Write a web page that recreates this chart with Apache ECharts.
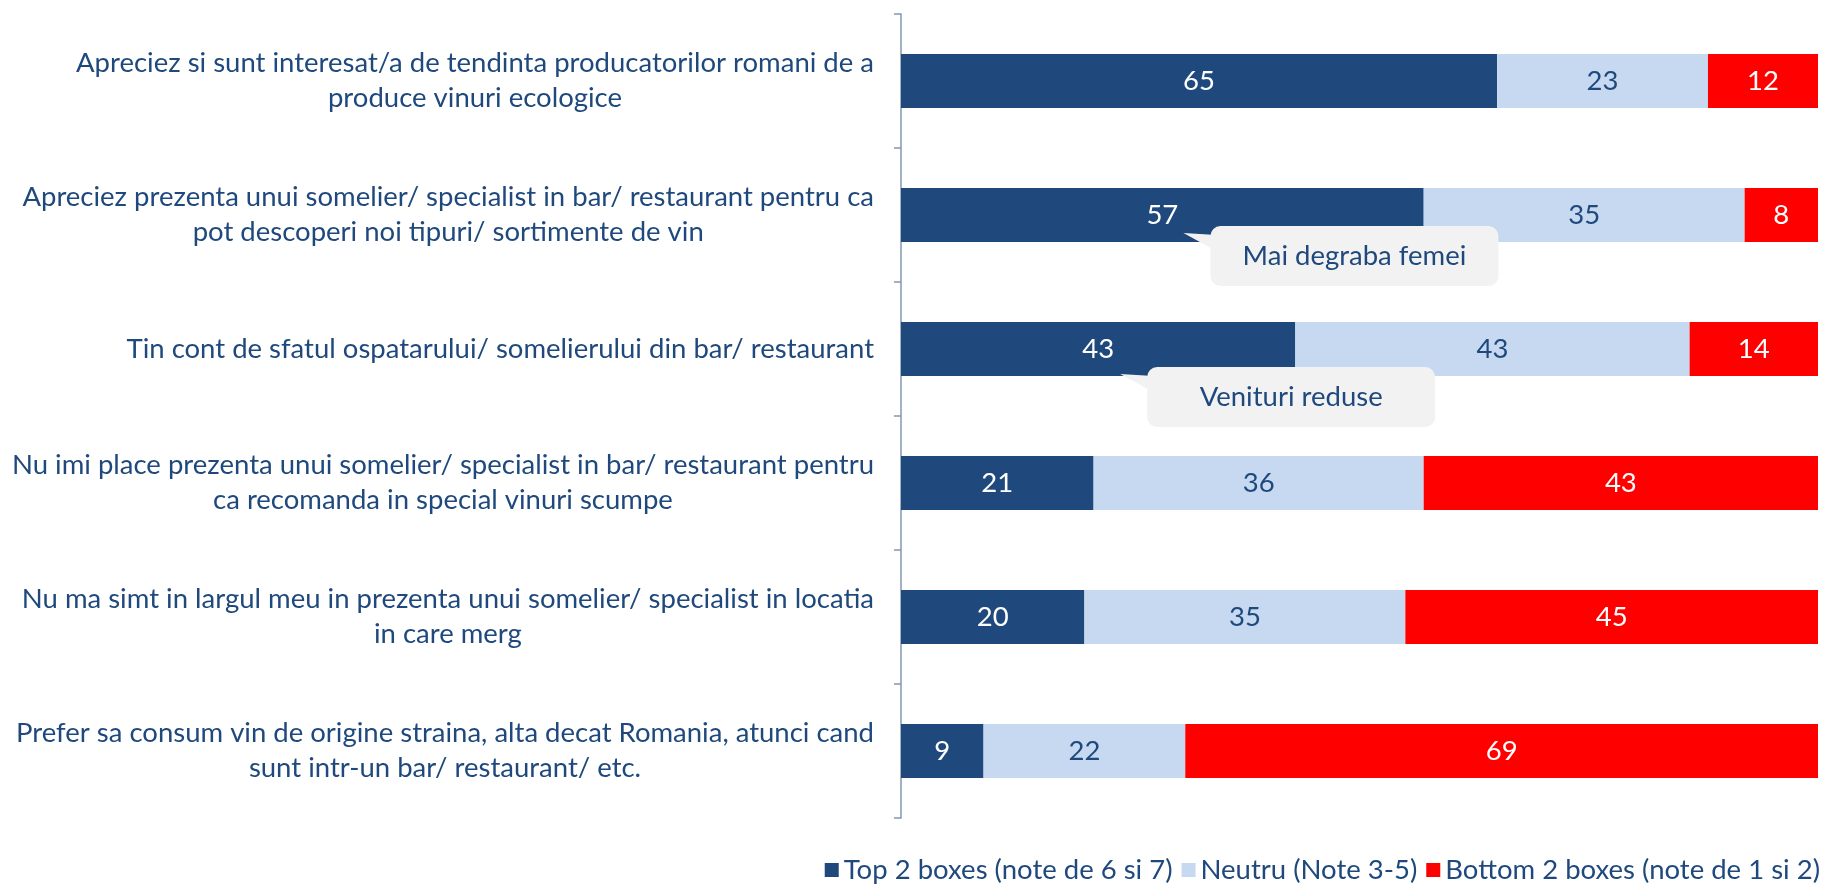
<!DOCTYPE html>
<html>
<head>
<meta charset="utf-8">
<script src="https://cdn.jsdelivr.net/npm/echarts@6/dist/echarts.min.js"></script>
<style>html,body{margin:0;padding:0;background:#fff}#chart{width:1822px;height:886px}</style>
</head>
<body>
<div id="chart"></div>
<script>
const categories = [
  "Apreciez si sunt interesat/a de tendinta producatorilor romani de a\nproduce vinuri ecologice",
  "Apreciez prezenta unui somelier/ specialist in bar/ restaurant pentru ca\npot descoperi noi tipuri/ sortimente de vin",
  "Tin cont de sfatul ospatarului/ somelierului din bar/ restaurant",
  "Nu imi place prezenta unui somelier/ specialist in bar/ restaurant pentru\nca recomanda in special vinuri scumpe",
  "Nu ma simt in largul meu in prezenta unui somelier/ specialist in locatia\nin care merg",
  "Prefer sa consum vin de origine straina, alta decat Romania, atunci cand\nsunt intr-un bar/ restaurant/ etc."
];
const seriesNames = ["Top 2 boxes (note de 6 si 7)", "Neutru (Note 3-5)", "Bottom 2 boxes (note de 1 si 2)"];
const topBoxes = [65, 57, 43, 21, 20, 9];
const neutru = [23, 35, 43, 36, 35, 22];
const bottomBoxes = [12, 8, 14, 43, 45, 69];
// callouts: [x anchor value, category index, text]
const callouts = [
  [30.8, 1, "Mai degraba femei"],
  [23.9, 2, "Venituri reduse"]
];
const calloutDy = [18, 25];

const FONT = 'Lato';
const FS = 27.5;
const DARK = '#1F497D';
const LIGHT = '#C6D9F1';
const RED = '#FF0000';

const chart = echarts.init(document.getElementById('chart'), null, {renderer: 'canvas'});

function barSeries(name, data, color, labelColor) {
  return {
    name: name,
    type: 'bar',
    stack: 'total',
    barWidth: 54,
    data: data,
    itemStyle: {color: color},
    label: {
      show: true,
      position: 'inside',
      color: labelColor,
      fontFamily: FONT,
      fontSize: FS
    },
    emphasis: {disabled: true}
  };
}

const option = {
  animation: false,
  backgroundColor: '#fff',
  grid: {left: 901, right: 4, top: 14, bottom: 68, containLabel: false},
  legend: {
    data: seriesNames,
    right: 2,
    top: 856,
    padding: 0,
    icon: 'rect',
    itemWidth: 14,
    itemHeight: 14,
    itemGap: 9,
    textStyle: {color: DARK, fontFamily: FONT, fontSize: FS}
  },
  xAxis: {type: 'value', min: 0, max: 100, show: false},
  yAxis: {
    type: 'category',
    inverse: true,
    data: categories,
    axisLine: {show: true, lineStyle: {color: '#8497B0', width: 1.5}},
    axisTick: {show: true, length: 7, lineStyle: {color: '#8497B0', width: 1.5}},
    axisLabel: {
      margin: 27,
      color: DARK,
      fontFamily: FONT,
      fontSize: FS,
      lineHeight: 35,
      formatter: function (v) {
        return v.split('\n').map(function (l) { return '{c|' + l + '}'; }).join('\n');
      },
      rich: {
        c: {align: 'center', color: DARK, fontFamily: FONT, fontSize: FS, lineHeight: 35}
      }
    }
  },
  series: [
    barSeries(seriesNames[0], topBoxes, DARK, '#ffffff'),
    barSeries(seriesNames[1], neutru, LIGHT, DARK),
    barSeries(seriesNames[2], bottomBoxes, RED, '#ffffff'),
    {
      type: 'custom',
      z: 10,
      silent: true,
      data: callouts,
      encode: {x: 0, y: 1},
      renderItem: function (params, api) {
        const p = api.coord([api.value(0), api.value(1)]);
        const tx = p[0], ty = p[1] + calloutDy[params.dataIndex];
        const bx = tx + 27, by = ty - 7, bw = 288, bh = 60;
        return {
          type: 'group',
          children: [
            {type: 'polygon', shape: {points: [[tx, ty], [bx + 6, ty + 2], [bx + 6, ty + 18]]}, style: {fill: '#F2F2F2'}},
            {type: 'rect', shape: {x: bx, y: by, width: bw, height: bh, r: 10}, style: {fill: '#F2F2F2'}},
            {type: 'text', style: {x: bx + bw / 2, y: by + bh / 2, text: callouts[params.dataIndex][2], align: 'center', verticalAlign: 'middle', fill: DARK, font: FS + 'px ' + FONT}}
          ]
        };
      }
    }
  ]
};
chart.setOption(option);
</script>
</body>
</html>
